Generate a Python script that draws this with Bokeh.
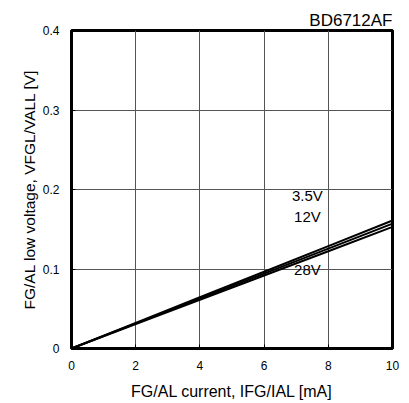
from bokeh.plotting import figure
from bokeh.models import Label, Range1d, FixedTicker
from bokeh.embed import file_html
from bokeh.resources import INLINE

current = [0, 2, 4, 6, 8, 10]
v_3p5 = [0.0, 0.0322, 0.0644, 0.0966, 0.1288, 0.161]
v_12 = [0.0, 0.0314, 0.0628, 0.0942, 0.1256, 0.157]
v_28 = [0.0, 0.0306, 0.0612, 0.0918, 0.1224, 0.153]
series_labels = ["3.5V", "12V", "28V"]
label_pos = [(7.35, 0.192), (7.35, 0.166), (7.35, 0.099)]
x_ticks = [0, 2, 4, 6, 8, 10]
y_ticks = [0, 0.1, 0.2, 0.3, 0.4]

FONT = "Liberation Sans"

p = figure(width=409, height=403, output_backend="svg", toolbar_location=None,
           x_range=Range1d(0, 10), y_range=Range1d(0, 0.4),
           title="BD6712AF",
           min_border_left=71, min_border_right=17, min_border_top=30, min_border_bottom=55)
p.title.align = "right"
p.title.text_font = FONT
p.title.text_font_size = "17px"
p.title.text_font_style = "normal"
p.title.text_color = "black"
p.title.standoff = 2
p.background_fill_color = "white"
p.border_fill_color = "white"
p.outline_line_color = "black"
p.outline_line_width = 3

for ax in (p.xaxis[0], p.yaxis[0]):
    ax.axis_line_color = None
    ax.major_tick_in = 4
    ax.major_tick_out = 0
    ax.minor_tick_line_color = None
    ax.major_tick_line_color = "black"
    ax.major_label_text_font = FONT
    ax.major_label_text_font_size = "12px"
    ax.major_label_text_color = "black"
    ax.axis_label_text_font = FONT
    ax.axis_label_text_font_style = "normal"
    ax.axis_label_text_color = "black"

p.xaxis.axis_label_text_font_size = "16px"
p.yaxis.axis_label_text_font_size = "15.5px"
p.xaxis.ticker = FixedTicker(ticks=x_ticks)
p.yaxis.ticker = FixedTicker(ticks=y_ticks)
p.yaxis.major_label_overrides = {0: "0"}
p.xaxis.major_label_standoff = 12
p.yaxis.major_label_standoff = 12
p.xaxis.axis_label = "FG/AL current, IFG/IAL [mA]"
p.yaxis.axis_label = "FG/AL low voltage, VFGL/VALL [V]"
p.xaxis.axis_label_standoff = 10
p.yaxis.axis_label_standoff = 2

p.grid.grid_line_color = "#555555"
p.grid.grid_line_width = 1

for ys in (v_3p5, v_12, v_28):
    p.line(current, ys, line_color="black", line_width=2)

for txt, (lx, ly) in zip(series_labels, label_pos):
    p.add_layout(Label(x=lx, y=ly, text=txt, text_align="center", text_baseline="middle",
                       text_font=FONT, text_font_size="15px", text_color="black"))

open("out.html", "w").write(file_html(p, INLINE))
